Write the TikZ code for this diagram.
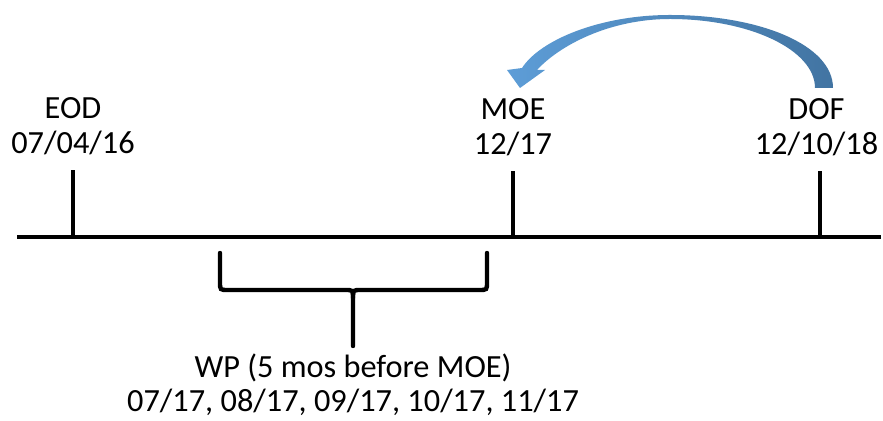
\documentclass[tikz,border=0pt]{standalone}
\usepackage{fontspec}
\setmainfont{Carlito}
\usetikzlibrary{positioning}
\definecolor{arrowlight}{RGB}{93,157,215}
\definecolor{arrowdark}{RGB}{66,116,162}

\begin{document}
\begin{tikzpicture}[
  x=0.02cm, y=-0.02cm,
  line/.style={line width=2.5pt},
  datelabel/.style={align=center, inner sep=0pt, font=\fontsize{18.4}{19.6}\selectfont},
]
\useasboundingbox (0,0) rectangle (883,421);
% time axis
\coordinate (start) at (17,237);
\coordinate (end) at (881,237);
\coordinate (eod) at (73,237);
\coordinate (moe) at (513,237);
\coordinate (dof) at (820,237);
\coordinate (eodtop) at (73,170);
\coordinate (moetop) at (513,171);
\coordinate (doftop) at (820,171);
\draw[line] (start) -- (end);
\draw[line] (eod) -- (eodtop);
\draw[line] (moe) -- (moetop);
\draw[line] (dof) -- (doftop);
% labels
\node[datelabel, above=0.3cm of eodtop] (eodlabel) {EOD\\07/04/16};
\node[datelabel, above=0.3cm of moetop] (moelabel) {MOE\\12/17};
\node[datelabel, above=0.3cm of doftop, xshift=-2] (doflabel) {DOF\\12/10/18};
% brace
\coordinate (bl) at (220,253);
\coordinate (br) at (487,253);
\coordinate (bm) at (353,298);
\coordinate (bs) at (353,346);
\draw[line, line cap=round] (bl) -- (220,282) .. controls (220,290) .. (228,290) -- (345,290) .. controls (353,290) .. (bm) -- (bs);
\draw[line, line cap=round] (br) -- (487,282) .. controls (487,290) .. (479,290) -- (361,290) .. controls (353,290) .. (bm);
\node[datelabel, below=0.15cm of bs] (wp) {WP (5 mos before MOE)\\07/17, 08/17, 09/17, 10/17, 11/17};
% curved arrow
\shade[left color=arrowlight, right color=arrowdark]
  (833,88) .. controls (833,45) and (760,15) .. (670,15)
  .. controls (600,15) and (540,40) .. (522,68) -- (507,70) -- (520,88) -- (545,70) -- (537,70)
  .. controls (560,45) and (610,19) .. (670,19)
  .. controls (750,19) and (815,50) .. (815,88) -- cycle;
\end{tikzpicture}
\end{document}
